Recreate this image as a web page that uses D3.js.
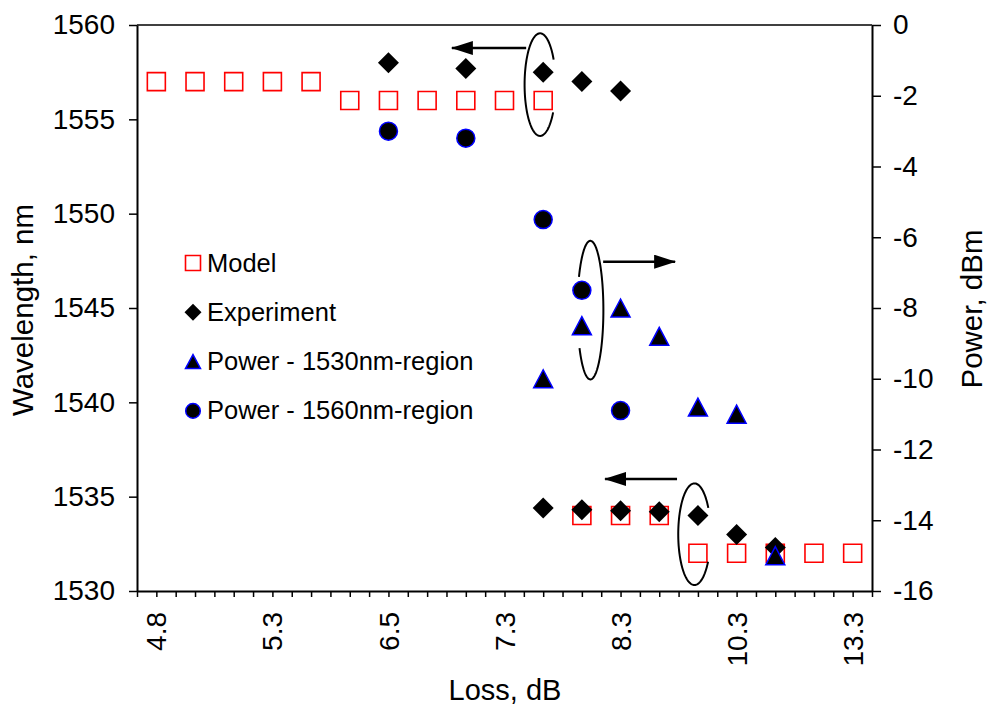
<!DOCTYPE html>
<html>
<head>
<meta charset="utf-8">
<script src="https://cdn.jsdelivr.net/npm/d3@7"></script>
<style>
  body { margin: 0; background: #fff; }
  text { font-family: "Liberation Sans", Arial, sans-serif; fill: #000; }
</style>
</head>
<body>
<script>
// categories on the loss axis (19 of them, only every 3rd one is labelled)
var lossTicks = ["4.8", "5.3", "6.5", "7.3", "8.3", "10.3", "13.3"];
var nCat = 19;

// wavelength, nm (left axis)
var modelWl = [1557, 1557, 1557, 1557, 1557, 1556, 1556, 1556, 1556, 1556, 1556,
               1534, 1534, 1534, 1532, 1532, 1532, 1532, 1532];
var expCat  = [6, 8, 10, 11, 12, 10, 11, 12, 13, 14, 15, 16];
var expWl   = [1558, 1557.7, 1557.5, 1557, 1556.5,
               1534.4, 1534.3, 1534.25, 1534.2, 1534.0, 1533.0, 1532.3];

// power, dBm (right axis)
var p1530Cat = [10, 11, 12, 13, 14, 15, 16];
var p1530    = [-10.0, -8.5, -8.0, -8.8, -10.8, -11.0, -15.0];
var p1560Cat = [6, 8, 10, 11, 12];
var p1560    = [-3.0, -3.2, -5.5, -7.5, -10.9];

// annotations (category position, value, which axis)
var ellipses = [
  {c: 9.92, v: 1556.84, axis: "L", rx: 15.5, ry: 51.3, a0: 32.8, a1: 331},
  {c: 11.22, v: -8.06, axis: "R", rx: 13, ry: 69.3, a0: 208.7, a1: 506.4},
  {c: 13.91, v: 1533.01, axis: "L", rx: 16.2, ry: 50.8, a0: 32.8, a1: 329.3}
];
var arrows = [
  {c0: 9.56, c1: 7.64, v: 1558.78, axis: "L"},
  {c0: 11.55, c1: 13.41, v: -6.69, axis: "R"},
  {c0: 13.46, c1: 11.6, v: 1535.94, axis: "L"}
];

var width = 987, height = 707;
var mLeft = 137, mRight = 872, mTop = 25, mBottom = 591;
var fontSize = "28px";

var svg = d3.select("body").append("svg")
  .attr("width", width)
  .attr("height", height);

var x = d3.scaleLinear().domain([-0.5, nCat - 0.5]).range([mLeft, mRight]);
var yL = d3.scaleLinear().domain([1530, 1560]).range([mBottom, mTop]);
var yR = d3.scaleLinear().domain([-16, 0]).range([mBottom, mTop]);

// frame
svg.append("line")
  .attr("x1", mLeft).attr("x2", mRight).attr("y1", mTop).attr("y2", mTop)
  .attr("stroke", "#000").attr("stroke-width", 1.5);

// axes
var gL = svg.append("g")
  .attr("transform", "translate(" + mLeft + ",0)")
  .call(d3.axisLeft(yL).tickValues(d3.range(1530, 1561, 5)).tickFormat(function (d) { return String(d); })
    .tickSize(8).tickPadding(14).tickSizeOuter(0));
var gR = svg.append("g")
  .attr("transform", "translate(" + mRight + ",0)")
  .call(d3.axisRight(yR).tickValues(d3.range(-16, 1, 2)).tickFormat(function (d) { return String(d); })
    .tickSize(9).tickPadding(12).tickSizeOuter(0));
var gB = svg.append("g")
  .attr("transform", "translate(0," + mBottom + ")")
  .call(d3.axisBottom(x).tickValues(d3.range(-0.5, nCat, 0.5)).tickSize(6).tickFormat("").tickSizeOuter(0));

[gL, gR, gB].forEach(function (g) {
  g.select(".domain").attr("stroke", "#000").attr("stroke-width", 2);
  g.selectAll(".tick line").attr("stroke", "#000").attr("stroke-width", 1.5);
  g.selectAll(".tick text")
    .style("font-family", "'Liberation Sans', Arial, sans-serif")
    .style("font-size", fontSize);
});

// rotated category labels
svg.append("g").selectAll("text")
  .data(lossTicks)
  .enter().append("text")
  .attr("transform", function (d, i) { return "translate(" + x(i * 3) + ",612) rotate(-90)"; })
  .attr("text-anchor", "end")
  .attr("dy", "0.36em")
  .style("font-size", fontSize)
  .text(function (d) { return d; });

// axis titles
svg.append("text")
  .attr("transform", "translate(33,310) rotate(-90)")
  .attr("text-anchor", "middle")
  .style("font-size", "29.5px")
  .text("Wavelength, nm");
svg.append("text")
  .attr("transform", "translate(982,309) rotate(-90)")
  .attr("text-anchor", "middle")
  .style("font-size", "29.5px")
  .text("Power, dBm");
svg.append("text")
  .attr("x", 505)
  .attr("y", 700)
  .attr("text-anchor", "middle")
  .style("font-size", "29px")
  .text("Loss, dB");

// marker shapes
function squarePath(s) { return "M" + (-s / 2) + "," + (-s / 2) + "h" + s + "v" + s + "h" + (-s) + "Z"; }
function diamondPath(r) { return "M0," + (-r) + "L" + r + ",0L0," + r + "L" + (-r) + ",0Z"; }
function trianglePath(w, h) { return "M0," + (-h / 2) + "L" + (w / 2) + "," + (h / 2) + "L" + (-w / 2) + "," + (h / 2) + "Z"; }

// Model
svg.append("g").selectAll("path")
  .data(modelWl)
  .enter().append("path")
  .attr("d", squarePath(18))
  .attr("transform", function (d, i) { return "translate(" + x(i) + "," + yL(d) + ")"; })
  .attr("fill", "none")
  .attr("stroke", "#ff0000")
  .attr("stroke-width", 1.6);

// Experiment
svg.append("g").selectAll("path")
  .data(expWl)
  .enter().append("path")
  .attr("d", diamondPath(10.5))
  .attr("transform", function (d, i) { return "translate(" + x(expCat[i]) + "," + yL(d) + ")"; })
  .attr("fill", "#000");

// Power - 1530nm-region
svg.append("g").selectAll("path")
  .data(p1530)
  .enter().append("path")
  .attr("d", trianglePath(19, 18))
  .attr("transform", function (d, i) { return "translate(" + x(p1530Cat[i]) + "," + yR(d) + ")"; })
  .attr("fill", "#000")
  .attr("stroke", "#0000ff")
  .attr("stroke-width", 1.5);

// Power - 1560nm-region
svg.append("g").selectAll("circle")
  .data(p1560)
  .enter().append("circle")
  .attr("cx", function (d, i) { return x(p1560Cat[i]); })
  .attr("cy", function (d) { return yR(d); })
  .attr("r", 9)
  .attr("fill", "#000")
  .attr("stroke", "#0000ff")
  .attr("stroke-width", 1.5);

// ellipses (open arcs)
ellipses.forEach(function (e) {
  var cx = x(e.c), cy = (e.axis == "L" ? yL : yR)(e.v);
  var pts = d3.range(e.a0, e.a1 + 0.5, 2).map(function (a) {
    var t = a * Math.PI / 180;
    return [cx + e.rx * Math.cos(t), cy + e.ry * Math.sin(t)];
  });
  svg.append("path")
    .attr("d", d3.line()(pts))
    .attr("fill", "none")
    .attr("stroke", "#000")
    .attr("stroke-width", 2);
});

// arrows
svg.append("defs").append("marker")
  .attr("id", "head")
  .attr("viewBox", "0 0 22 14")
  .attr("refX", 21).attr("refY", 7)
  .attr("markerUnits", "userSpaceOnUse")
  .attr("markerWidth", 22).attr("markerHeight", 14)
  .attr("orient", "auto")
  .append("path")
  .attr("d", "M0,0L22,7L0,14Z")
  .attr("fill", "#000");

arrows.forEach(function (a) {
  var yy = (a.axis == "L" ? yL : yR)(a.v);
  svg.append("line")
    .attr("x1", x(a.c0)).attr("x2", x(a.c1))
    .attr("y1", yy).attr("y2", yy)
    .attr("stroke", "#000")
    .attr("stroke-width", 2.5)
    .attr("marker-end", "url(#head)");
});

// legend
var legendItems = ["Model", "Experiment", "Power - 1530nm-region", "Power - 1560nm-region"];
var lg = svg.append("g").attr("transform", "translate(193,263)");
legendItems.forEach(function (name, i) {
  var row = lg.append("g").attr("transform", "translate(0," + (i * 49.3) + ")");
  if (i == 0) row.append("path").attr("d", squarePath(15)).attr("fill", "none").attr("stroke", "#ff0000").attr("stroke-width", 1.6);
  if (i == 1) row.append("path").attr("d", diamondPath(8.5)).attr("fill", "#000");
  if (i == 2) row.append("path").attr("d", trianglePath(15, 14)).attr("fill", "#000").attr("stroke", "#0000ff").attr("stroke-width", 1.5);
  if (i == 3) row.append("circle").attr("r", 7.3).attr("fill", "#000").attr("stroke", "#0000ff").attr("stroke-width", 1.5);
  row.append("text")
    .attr("x", 14)
    .attr("y", 8.5)
    .style("font-size", "25.5px")
    .text(name);
});
</script>
</body>
</html>
